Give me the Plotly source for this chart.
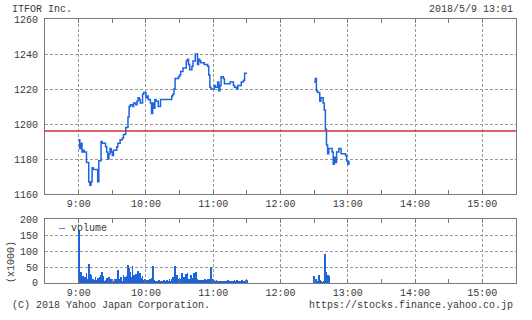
import plotly.graph_objects as go
import pandas as pd

DATE = "2018-05-09"
title_text = "ITFOR Inc."
stamp_text = "2018/5/9 13:01"
prev_close = 1196

am_times = ["09:00","09:01","09:02","09:03","09:04","09:05","09:07","09:09","09:10","09:11",
            "09:12","09:13","09:17","09:18","09:20","09:21","09:24","09:25","09:26","09:27",
            "09:28","09:29","09:30","09:31","09:34","09:35","09:37","09:39","09:40","09:42",
            "09:44","09:45","09:46","09:48","09:49","09:51","09:52","09:53","09:54","09:55",
            "09:57","09:58","10:00","10:01","10:02","10:04","10:05","10:06","10:07","10:08",
            "10:09","10:11","10:13","10:23","10:24","10:25","10:26","10:29","10:30","10:31",
            "10:33","10:36","10:37","10:38","10:39","10:41","10:42","10:44","10:46","10:47",
            "10:48","10:49","10:52","10:55","10:56","10:57","10:58","11:01","11:02","11:04",
            "11:05","11:06","11:07","11:09","11:10","11:15","11:18","11:19","11:21","11:22",
            "11:25","11:27","11:28","11:30"]
am_prices = [1191,1186,1189,1184,1185,1184,1178,1167,1165,1167,
             1175,1174,1167,1179,1190,1189,1187,1184,1180,1183,
             1186,1184,1182,1185,1187,1189,1191,1192,1194,1198,
             1204,1210,1211,1210,1212,1211,1213,1215,1214,1212,
             1217,1218,1215,1216,1214,1212,1206,1212,1209,1214,
             1213,1210,1214,1216,1217,1220,1226,1227,1228,1230,
             1232,1236,1237,1234,1231,1233,1236,1240,1234,1237,
             1236,1235,1234,1233,1228,1221,1220,1222,1221,1224,
             1219,1222,1227,1226,1223,1224,1222,1221,1220,1222,
             1224,1225,1229,1229]

pm_times = ["12:30","12:31","12:32","12:33","12:35","12:36","12:38","12:39","12:40","12:41",
            "12:42","12:43","12:46","12:47","12:48","12:49","12:50","12:52","12:54","12:58",
            "12:59","13:00","13:01"]
pm_prices = [1224,1226,1219,1218,1213,1215,1212,1208,1197,1188,
             1183,1186,1184,1177,1181,1178,1184,1186,1183,1182,
             1179,1177,1179]

# volume (x1000), one bar per minute
am_vol_start = "09:00"
am_volume = [165,35,35,20,22,15,20,32,11,59,28,25,6,11,9,20,9,15,9,20,
             25,35,22,6,9,15,9,18,6,11,9,6,14,11,9,41,11,9,18,6,
             25,20,15,22,56,46,35,20,53,25,20,28,20,37,22,32,15,22,9,14,
             9,9,6,9,11,15,53,9,5,3,6,3,9,4,6,4,9,6,4,9,
             6,12,6,12,20,9,53,14,25,11,17,11,32,15,20,15,28,32,14,11,
             25,17,11,30,9,35,11,9,6,9,6,9,5,11,9,11,6,11,49,11,
             14,9,6,9,5,7,4,6,4,4,7,4,4,9,6,4,6,4,4,9,
             4,9,4,6,4,6,9,6,6,9,9]
pm_vol_start = "12:30"
pm_volume = [22,7,11,6,25,9,5,2,3,4,90,35,25,22]

hour_ticks = ["09:00","10:00","11:00","12:00","13:00","14:00","15:00"]
hour_labels = ["9:00","10:00","11:00","12:00","13:00","14:00","15:00"]
half_ticks = ["08:30","09:30","10:30","11:30","12:30","13:30","14:30","15:30"]
price_ticks = [1160,1180,1200,1220,1240,1260]
vol_ticks = [0,50,100,150,200]

def ts(hm):
    return pd.Timestamp(f"{DATE} {hm}")

BLUE = "#1e64dc"
GRID = "#9a9a9a"
FRAME = "#7a7a7a"
TXT = "#3a3a3a"
FONT = "Liberation Mono"

am_vol_x = pd.date_range(ts(am_vol_start), periods=len(am_volume), freq="1min")
pm_vol_x = pd.date_range(ts(pm_vol_start), periods=len(pm_volume), freq="1min")

fig = go.Figure()
fig.add_trace(go.Scatter(x=[ts(t) for t in am_times], y=am_prices, mode="lines",
                         line=dict(color=BLUE, width=1.5, shape="hv"), showlegend=False,
                         xaxis="x", yaxis="y"))
fig.add_trace(go.Scatter(x=[ts(t) for t in pm_times], y=pm_prices, mode="lines",
                         line=dict(color=BLUE, width=1.5, shape="hv"), showlegend=False,
                         xaxis="x", yaxis="y"))
fig.add_trace(go.Bar(x=list(am_vol_x) + list(pm_vol_x), y=am_volume + pm_volume,
                     marker=dict(color=BLUE, line=dict(width=0)), width=45000,
                     showlegend=False, xaxis="x2", yaxis="y2"))

xr = [ts("08:30"), ts("15:30")]
common_x = dict(range=xr, type="date", tickmode="array",
                tickvals=[ts(t) for t in hour_ticks], ticktext=hour_labels,
                showgrid=True, gridcolor=GRID, griddash="3px,2px", gridwidth=1,
                showline=True, linecolor=FRAME, linewidth=1, mirror="allticks",
                ticks="inside", ticklen=4, tickcolor=FRAME,
                minor=dict(tickmode="array", tickvals=[ts(t) for t in half_ticks],
                           ticks="inside", ticklen=4, tickcolor=FRAME, showgrid=False),
                tickfont=dict(family=FONT, size=10, color=TXT), zeroline=False,
                fixedrange=True)
common_y = dict(showgrid=True, gridcolor=GRID, griddash="3px,2px", gridwidth=1,
                showline=True, linecolor=FRAME, linewidth=1, mirror=True,
                ticks="", tickfont=dict(family=FONT, size=10, color=TXT),
                ticklabelstandoff=4, zeroline=False, tickmode="array")

fig.update_layout(
    width=532, height=320,
    margin=dict(l=45, r=16, t=19, b=37),
    paper_bgcolor="white", plot_bgcolor="white",
    xaxis=dict(**common_x, domain=[0, 1], anchor="y"),
    yaxis=dict(**common_y, domain=[0.337, 1.0], range=[1160, 1260], tickvals=price_ticks,
               anchor="x"),
    xaxis2=dict(**common_x, domain=[0, 1], anchor="y2"),
    yaxis2=dict(**common_y, domain=[0.0, 0.2424], range=[0, 200], tickvals=vol_ticks,
                anchor="x2"),
    bargap=0,
    shapes=[dict(type="line", xref="x domain", x0=0, x1=1, yref="y", y0=prev_close,
                 y1=prev_close, line=dict(color="#cc3333", width=1.4))],
    font=dict(family=FONT, size=10, color=TXT),
)

W = 471.0
H = 264.0
def px_x(x):
    return (x - 45) / W
def px_y(y):
    return (283 - y) / H

ann = [
    dict(text=title_text, x=px_x(10), y=px_y(9), xanchor="left", yanchor="middle"),
    dict(text=stamp_text, x=px_x(515), y=px_y(9), xanchor="right", yanchor="middle"),
    dict(text="(C) 2018 Yahoo Japan Corporation.", x=px_x(10), y=px_y(305),
         xanchor="left", yanchor="middle"),
    dict(text="https://stocks.finance.yahoo.co.jp", x=px_x(515), y=px_y(305),
         xanchor="right", yanchor="middle"),
    dict(text="(x1000)", x=px_x(11), y=px_y(262), xanchor="center", yanchor="middle",
         textangle=-90),
    dict(text=f'<span style="color:{BLUE}">\u2014</span> volume', x=px_x(56), y=px_y(228),
         xanchor="left", yanchor="middle"),
]
for a in ann:
    a.update(xref="paper", yref="paper", showarrow=False,
             font=dict(family=FONT, size=10, color=TXT))
fig.update_layout(annotations=ann)

fig.write_html("out.html")
